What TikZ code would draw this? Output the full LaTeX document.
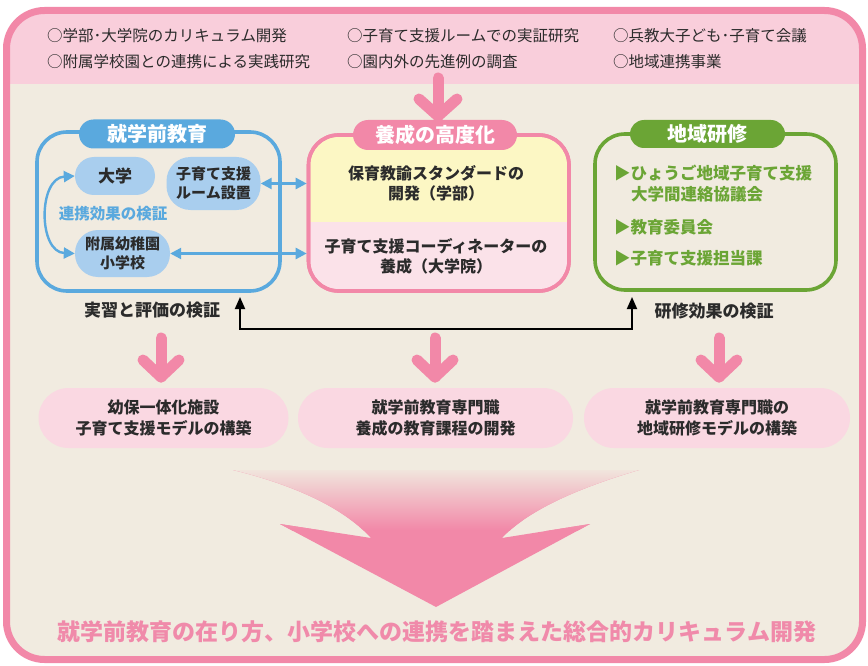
\documentclass[tikz,border=0pt]{standalone}
\usepackage{fontspec}
\setmainfont{Noto Sans CJK JP}
\usetikzlibrary{arrows.meta,calc}
\definecolor{frame}{HTML}{F288A8}
\definecolor{band}{HTML}{F9CEDB}
\definecolor{beige}{HTML}{F1EBE0}
\definecolor{bluec}{HTML}{5AA9DE}
\definecolor{lblue}{HTML}{A9CEEE}
\definecolor{greenc}{HTML}{6BA535}
\definecolor{yellowf}{HTML}{FCF7C4}
\definecolor{pinkf}{HTML}{FBE2E9}
\definecolor{pillp}{HTML}{FAD8E2}
\definecolor{dark}{HTML}{2B2B2B}
\definecolor{pinktxt}{HTML}{F08AAA}
\newcommand\fsz[2]{\fontsize{#1}{#2}\selectfont}
\tikzset{
  bigbox/.style={draw=#1, line width=3.6pt, rounded corners=30pt, inner sep=0pt},
  titlepill/.style={fill=#1, text=white, font=\bfseries\fsz{20}{24}, inner sep=0pt, minimum height=29pt, rounded corners=14.5pt},
  bluepill/.style={fill=lblue, text=dark, font=\bfseries\fsz{15}{18.5}, align=center, inner sep=0pt},
  botpill/.style={fill=pillp, text=dark, font=\bfseries\fsz{16}{21}, align=center, inner sep=0pt, minimum width=#1, minimum height=60pt, rounded corners=30pt},
  toptxt/.style={anchor=west, text=dark, font=\fsz{15.5}{18}, inner sep=0pt},
  greentxt/.style={anchor=west, text=greenc, font=\bfseries\fsz{16.5}{20}, inner sep=0pt},
  darktxt/.style={text=dark, font=\bfseries\fsz{16}{20}, align=center, inner sep=0pt},
  pinkarrow/.style={draw=frame, line width=11pt, line cap=round, line join=round},
  bluearrow/.style={draw=bluec, line width=2.4pt, {Triangle[length=11pt,width=11pt]}-{Triangle[length=11pt,width=11pt]}},
  blackarrow/.style={draw=black, line width=1.8pt, {Triangle[length=12pt,width=10pt]}-{Triangle[length=12pt,width=10pt]}}
}
\begin{document}
\begin{tikzpicture}[x=1pt,y=-1pt]
\useasboundingbox (0,0) rectangle (868,666);
\fill[white] (0,0) rectangle (868,666);
% outer frame
\begin{scope}
  \clip[rounded corners=38pt] (6.5,10.5) rectangle (862.5,659.5);
  \fill[beige] (0,0) rectangle (868,666);
  \fill[band] (0,0) rectangle (868,84);
\end{scope}
\draw[frame, line width=7pt, rounded corners=38pt] (6.5,10.5) rectangle (862.5,659.5);

% top texts
\node[toptxt] (t1) at (47,36) {○学部･大学院のカリキュラム開発};
\node[toptxt] (t2) at (347,36) {○子育て支援ルームでの実証研究};
\node[toptxt] (t3) at (613,36) {○兵教大子ども･子育て会議};
\node[toptxt] (t4) at (47,62) {○附属学校園との連携による実践研究};
\node[toptxt] (t5) at (347,62) {○園内外の先進例の調査};
\node[toptxt] (t6) at (613,62) {○地域連携事業};

% top arrow
\draw[pinkarrow] (438,78) -- (438,116);
\draw[pinkarrow] (419,99) -- (438,116) -- (457,99);

% big boxes
\node[bigbox=bluec, minimum width=243pt, minimum height=159pt] (lb) at (158.5,211.5) {};
\node[bigbox=frame, fill=yellowf, minimum width=260.5pt, minimum height=156pt,
  path picture={\fill[pinkf, sharp corners] ([xshift=-5pt,yshift=-5pt]path picture bounding box.south west) rectangle ([xshift=5pt,yshift=-9pt]path picture bounding box.east);}] (mb) at (438.75,213) {};
\node[bigbox=frame, minimum width=260.5pt, minimum height=156pt] at (438.75,213) {};
\node[bigbox=greenc, minimum width=241pt, minimum height=156pt] (rb) at (715.5,212) {};

% titles
\node[titlepill=bluec, minimum width=156pt] (lt) at (157,134) {就学前教育};
\node[titlepill=frame, minimum width=164pt, minimum height=30pt, rounded corners=15pt] (mt) at (435,135) {養成の高度化};
\node[titlepill=greenc, minimum width=155pt, minimum height=28pt, rounded corners=14pt] (rt) at (707.5,134) {地域研修};

% left box content
\node[bluepill, minimum width=80pt, minimum height=38pt, rounded corners=19pt, font=\bfseries\fsz{17}{20}] (univ) at (115,176) {大学};
\node[bluepill, minimum width=94pt, minimum height=53pt, rounded corners=24pt] (room) at (213.5,183.5) {子育て支援\\ルーム設置};
\node[bluepill, minimum width=95pt, minimum height=47pt, rounded corners=23pt] (kind) at (122.5,253.5) {附属幼稚園\\小学校};
\node[text=bluec, font=\bfseries\fsz{15.5}{18}, inner sep=0pt] (renkei) at (113,214) {連携効果の検証};

\draw[bluearrow] (univ.west) .. controls (38,178) and (38,252) .. (kind.west);
\draw[bluearrow] (room.east) -- (room.east -| mb.west);
\draw[bluearrow] (kind.east) -- (kind.east -| mb.west);

% middle content
\node[darktxt] (std) at (436,183) {保育教諭スタンダードの\\開発（学部）};
\node[darktxt] (coord) at (436,256) {子育て支援コーディネーターの\\養成（大学院）};

% right content
\node[greentxt] (g1) at (614,173) {▶ひょうご地域子育て支援};
\node[greentxt] (g2) at (631,194) {大学間連絡協議会};
\node[greentxt] (g3) at (614,227) {▶教育委員会};
\node[greentxt] (g4) at (614,258) {▶子育て支援担当課};

% labels
\node[darktxt, font=\bfseries\fsz{17}{20}] (lab1) at (152,310) {実習と評価の検証};
\node[darktxt, font=\bfseries\fsz{17}{20}] (lab2) at (714,311) {研修効果の検証};

% black connector
\coordinate (c1) at (240,297);
\coordinate (c2) at (632,297);
\draw[blackarrow] (c1) -- (240,329) -| (c2);

% lower pink arrows
\foreach \x in {161,435,719}{
  \draw[pinkarrow] (\x,338) -- (\x,377);
  \draw[pinkarrow] (\x-18,360) -- (\x,377) -- (\x+18,360);
}

% bottom pills
\node[botpill=250pt] (p1) at (163.5,418) {幼保一体化施設\\子育て支援モデルの構築};
\node[botpill=275pt] (p2) at (435.5,418) {就学前教育専門職\\養成の教育課程の開発};
\node[botpill=266pt] (p3) at (717,418) {就学前教育専門職の\\地域研修モデルの構築};

% big gradient arrow
\begin{scope}
  \clip (233,470) -- (639,470) .. controls (585,486) and (530,508) .. (502,538) -- (590,524) -- (436,607) -- (280,524) -- (371,538) .. controls (342,506) and (290,484) .. (233,470) -- cycle;
  \fill[frame] (220,460) rectangle (650,610);
  \shade[top color=beige, bottom color=frame] (220,466) rectangle (650,530);
\end{scope}

% bottom text
\node[text=pinktxt, font=\bfseries\fsz{23}{26}, inner sep=0pt] (goal) at (437,632) {就学前教育の在り方、小学校への連携を踏まえた総合的カリキュラム開発};
\end{tikzpicture}
\end{document}
